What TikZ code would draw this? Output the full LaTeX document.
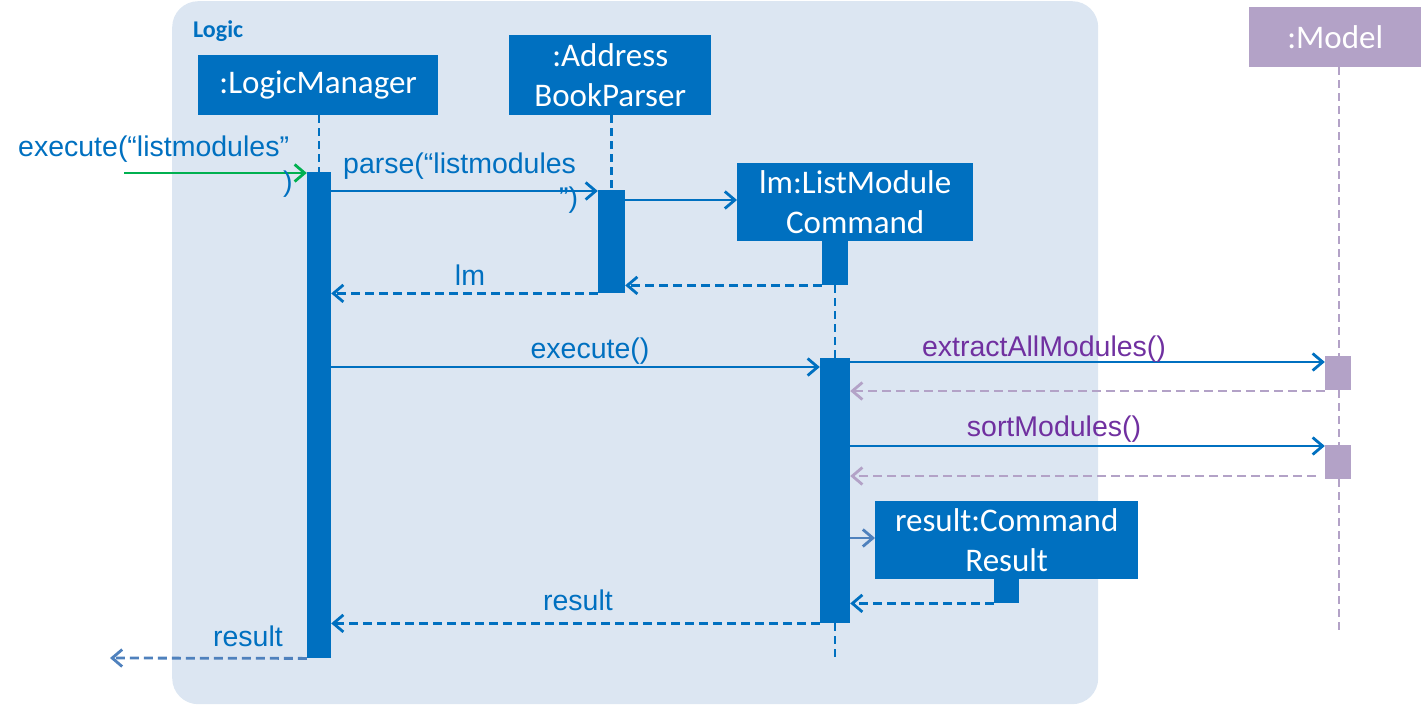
\documentclass[tikz,border=0pt]{standalone}
\usepackage{fontspec}
\setmainfont{Liberation Sans}
\newfontfamily\boxfont{Carlito}
\usetikzlibrary{arrows.meta}
\definecolor{logicbg}{HTML}{DCE6F2}
\definecolor{objblue}{HTML}{0070C0}
\definecolor{modelpurple}{HTML}{B3A2C7}
\definecolor{msgpurple}{HTML}{7030A0}
\definecolor{steel}{HTML}{4F81BD}
\definecolor{callgreen}{HTML}{00B050}
\tikzset{
  obj/.style={fill=objblue, text=white, font=\boxfont\fontsize{33}{40}\selectfont,
    inner sep=0pt, align=center},
  act/.style={fill=objblue, inner sep=0pt, minimum width=24pt},
  mact/.style={fill=modelpurple, inner sep=0pt, minimum width=26pt, minimum height=34pt},
  life/.style={objblue, line width=2.8pt, dash pattern=on 8pt off 5pt},
  tip/.style={-{Straight Barb[length=10pt,width=17pt,line width=2.8pt]}},
  msg/.style={tip, objblue, line width=2.8pt},
  ret/.style={tip, objblue, line width=2.8pt, dash pattern=on 9pt off 5pt},
  lbl/.style={font=\fontsize{28.5}{32}\selectfont, text=objblue, inner sep=0pt},
  plbl/.style={font=\fontsize{28.5}{32}\selectfont, text=msgpurple, inner sep=0pt},
}
\begin{document}
\begin{tikzpicture}[x=1pt,y=-1pt]
\useasboundingbox (0,0) rectangle (1421,704);
% Logic component frame
\node[fill=logicbg, rounded corners=26pt, minimum width=926pt, minimum height=703pt,
  inner sep=0pt, anchor=north west] (logic) at (172,1) {};
\node[anchor=west, text=objblue, font=\boxfont\bfseries\fontsize{24}{28}\selectfont,
  inner sep=0pt] (logictitle) at (193,31) {Logic};

% participants
\node[obj, minimum width=240pt, minimum height=60pt, anchor=north west] (lm) at (198,55) {:LogicManager};
\node[obj, minimum width=202pt, minimum height=80pt, anchor=north west] (abp) at (509,35) {:Address\\BookParser};
\node[obj, minimum width=236pt, minimum height=78pt, anchor=north west] (lmc) at (737,163) {lm:ListModule\\Command};
\node[obj, minimum width=263pt, minimum height=78pt, anchor=north west] (cr) at (875,501) {result:Command\\Result};
\node[obj, fill=modelpurple, minimum width=172pt, minimum height=60pt, anchor=north west] (model) at (1249,7) {:Model};

% activation bars
\node[act, minimum height=486pt, anchor=north] (a1) at (319,172) {};
\node[act, minimum width=27pt, minimum height=103pt, anchor=north] (a2) at (611.5,190) {};
\node[act, minimum width=26pt, minimum height=44pt, anchor=north] (a3) at (835,241) {};
\node[act, minimum width=30pt, minimum height=265pt, anchor=north] (a4) at (835,358) {};
\node[act, minimum width=25pt, minimum height=24pt, anchor=north] (a5) at (1006.5,579) {};
\node[mact, anchor=north] (m1) at (1338,356) {};
\node[mact, anchor=north] (m2) at (1338,445) {};

% lifelines
\coordinate (lmcend) at (835,658);
\coordinate (modelend) at (1339,632);
\draw[life] (lm.south -| a1) -- (a1.north);
\draw[life] (abp.south -| a2) -- (a2.north);
\draw[life] (a3.south) -- (a4.north);
\draw[life] (a4.south) -- (lmcend);
\draw[life, modelpurple] (model.south -| modelend) -- (m1.north -| modelend);
\draw[life, modelpurple] (m1.south -| modelend) -- (m2.north -| modelend);
\draw[life, modelpurple] (m2.south -| modelend) -- (modelend);

% incoming call
\coordinate (caller) at (124,173);
\draw[tip, callgreen, line width=2.8pt] (caller) -- (a1.west |- caller);
\node[lbl, anchor=base west] (ex1) at (18,156) {execute(“listmodules”};
\node[lbl, anchor=base west] (ex2) at (283,191) {)};

% parse
\draw[msg] (a1.east |- 0,191) -- (a2.west |- 0,191);
\node[lbl, anchor=base west] (p1) at (343,173) {parse(“listmodules};
\node[lbl, anchor=base west] (p2) at (559,207) {”)};

% create command
\draw[msg] (a2.east |- 0,200) -- (lmc.west |- 0,200);
\draw[ret] (a3.south west) -- (a2.east |- a3.south);
\draw[ret] (a2.south west) -- (a1.east |- a2.south);
\node[lbl, anchor=base] (lmlbl) at (470,285) {lm};

% execute
\draw[msg] (a1.east |- 0,367) -- (a4.west |- 0,367);
\node[lbl, anchor=base] (exlbl) at (590,358) {execute()};

% model calls
\draw[msg] (a4.east |- 0,362) -- (m1.west |- 0,362);
\node[plbl, anchor=base] (exm) at (1044,356) {extractAllModules()};
\draw[tip, modelpurple, line width=2.8pt, dash pattern=on 9pt off 5pt] (m1.west |- 0,391) -- (a4.east |- 0,391);
\draw[msg] (a4.east |- 0,446) -- (m2.west |- 0,446);
\node[plbl, anchor=base] (sm) at (1054,436) {sortModules()};
\draw[tip, modelpurple, line width=2.8pt, dash pattern=on 9pt off 5pt] (1316,476) -- (a4.east |- 0,476);

% result creation and returns
\draw[tip, steel, line width=2.8pt] (a4.east |- 0,538) -- (cr.west |- 0,538);
\draw[ret] (a5.south west) -- (a4.east |- a5.south);
\draw[ret] (a4.south west) -- (a1.east |- a4.south);
\node[lbl, anchor=base] (res1) at (578,610) {result};
\coordinate (exitpt) at (110,658);
\draw[tip, steel, line width=2.8pt, dash pattern=on 9pt off 5pt] (a1.south west) -- (exitpt);
\node[lbl, anchor=base] (res2) at (248,646) {result};
\end{tikzpicture}
\end{document}
